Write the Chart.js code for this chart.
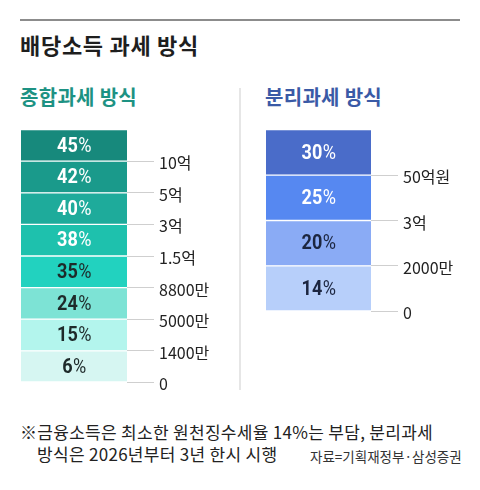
<!DOCTYPE html>
<html><head><meta charset="utf-8">
<script src="https://cdn.jsdelivr.net/npm/chart.js@4"></script>
<style>
html,body{margin:0;padding:0;background:#fff;}
#wrap{position:relative;width:480px;height:490px;overflow:hidden;font-family:"Noto Sans CJK KR","Noto Sans",sans-serif;color:#222;}
.abs{position:absolute;white-space:nowrap;}
#rule{left:20px;top:19px;width:440px;height:2px;background:#8c8c8c;}
#title{left:20px;top:29px;font-size:22px;font-weight:700;line-height:30px;color:#1e1e1e;letter-spacing:0.7px;}
#subL{left:20px;top:83px;font-size:20px;font-weight:700;line-height:28px;color:#1d9283;letter-spacing:0.3px;}
#subR{left:265px;top:83px;font-size:20px;font-weight:700;line-height:28px;color:#3a5aa6;letter-spacing:0.3px;}
#divider{left:239px;top:88px;width:2px;height:302px;background:#e6e6e6;}
#note1{left:20px;top:420px;font-size:17px;line-height:24px;color:#222;letter-spacing:0.3px;}
#note2{left:37px;top:442px;font-size:17px;line-height:24px;color:#222;letter-spacing:0.3px;}
#src{left:310px;top:446px;font-size:13.5px;line-height:20px;color:#333;letter-spacing:0px;}
#cL{left:21px;top:115px;}
#cR{left:266px;top:115px;}
</style></head>
<body>
<div id="wrap">
  <div id="rule" class="abs"></div>
  <div id="title" class="abs">배당소득 과세 방식</div>
  <div id="subL" class="abs">종합과세 방식</div>
  <div id="subR" class="abs">분리과세 방식</div>
  <div id="divider" class="abs"></div>
  <div id="cL" class="abs" style="width:210px;height:282px;"><canvas id="chartL"></canvas></div>
  <div id="cR" class="abs" style="width:200px;height:211px;"><canvas id="chartR"></canvas></div>
  <div id="note1" class="abs">※금융소득은 최소한 원천징수세율 14%는 부담, 분리과세</div>
  <div id="note2" class="abs">방식은 2026년부터 3년 한시 시행</div>
  <div id="src" class="abs">자료=기획재정부·삼성증권</div>
</div>
<script>
// 종합과세 방식 (bottom bracket first)
const combinedRates = [6, 15, 24, 35, 38, 40, 42, 45];
const combinedThresholds = ['0', '1400만', '5000만', '8800만', '1.5억', '3억', '5억', '10억'];
const combinedColors = ['#d6f6f2', '#b3f5ed', '#7de3d5', '#22d2bf', '#1ec1ad', '#1eab9b', '#1a9a8b', '#17897c'];
const combinedTextColors = ['#1e2a2a', '#1e2a2a', '#1e2a2a', '#1e2a2a', '#ffffff', '#ffffff', '#ffffff', '#ffffff'];

// 분리과세 방식 (bottom bracket first)
const separateRates = [14, 20, 25, 30];
const separateThresholds = ['0', '2000만', '3억', '50억원'];
const separateColors = ['#b7cffa', '#8aabf5', '#5688f1', '#4a6cc9'];
const separateTextColors = ['#1c2640', '#1c2640', '#ffffff', '#ffffff'];

const numFont = 'Roboto,"Noto Sans CJK KR",sans-serif';
const tickFont = '"Noto Sans CJK KR",sans-serif';

const rateLabelPlugin = {
  id: 'rateLabels',
  afterDatasetsDraw(chart) {
    const ctx = chart.ctx;
    const cfg = chart.options.plugins.rateLabels;
    const sx = 0.86;
    chart.data.datasets.forEach((ds, i) => {
      const el = chart.getDatasetMeta(i).data[0];
      if (!el) return;
      const cy = (el.y + el.base) / 2;
      const cx = el.x;
      const num = String(cfg.rates[i]);
      ctx.save();
      ctx.translate(cx, cy + 1);
      ctx.scale(sx, 1);
      ctx.fillStyle = cfg.textColors[i];
      ctx.textBaseline = 'middle';
      ctx.font = 'bold 21px ' + numFont;
      const wNum = ctx.measureText(num).width;
      ctx.font = '21px ' + numFont;
      const wPct = ctx.measureText('%').width;
      const x0 = -(wNum + wPct) / 2;
      ctx.textAlign = 'left';
      ctx.font = 'bold 21px ' + numFont;
      ctx.fillText(num, x0, 0);
      ctx.font = '21px ' + numFont;
      ctx.fillText('%', x0 + wNum + 0.5, 0);
      ctx.restore();
    });
  }
};

function makeChart(id, rates, thresholds, colors, textColors, axisWidth) {
  const datasets = rates.map((r, i) => ({
    label: r + '%',
    data: [[i, i + 1]],
    backgroundColor: colors[i],
    borderColor: '#ffffff',
    borderWidth: {top: 1, bottom: 1, left: 0, right: 0},
    borderSkipped: false,
    barPercentage: 1,
    categoryPercentage: 1,
    grouped: false
  }));
  return new Chart(document.getElementById(id), {
    type: 'bar',
    data: {labels: [''], datasets},
    plugins: [rateLabelPlugin],
    options: {
      responsive: true,
      maintainAspectRatio: false,
      animation: false,
      layout: {padding: {top: 10, bottom: 10, left: 0, right: 0}},
      plugins: {
        legend: {display: false},
        tooltip: {enabled: false},
        rateLabels: {rates, textColors}
      },
      scales: {
        x: {display: false},
        y: {
          position: 'right',
          min: 0,
          max: rates.length,
          afterFit(scale) { scale.width = axisWidth; },
          border: {display: false},
          grid: {
            drawOnChartArea: false,
            drawTicks: true,
            tickLength: 27,
            color: (c) => c.tick && c.tick.value < rates.length ? '#cfcfcf' : 'rgba(0,0,0,0)',
            lineWidth: 1
          },
          ticks: {
            stepSize: 1,
            padding: 5,
            labelOffset: 2,
            color: '#222',
            font: {size: 16, family: tickFont},
            callback: (v) => (v < thresholds.length ? thresholds[v] : '')
          }
        }
      }
    }
  });
}

makeChart('chartL', combinedRates, combinedThresholds, combinedColors, combinedTextColors, 104);
makeChart('chartR', separateRates, separateThresholds, separateColors, separateTextColors, 95);
</script>
</body></html>
